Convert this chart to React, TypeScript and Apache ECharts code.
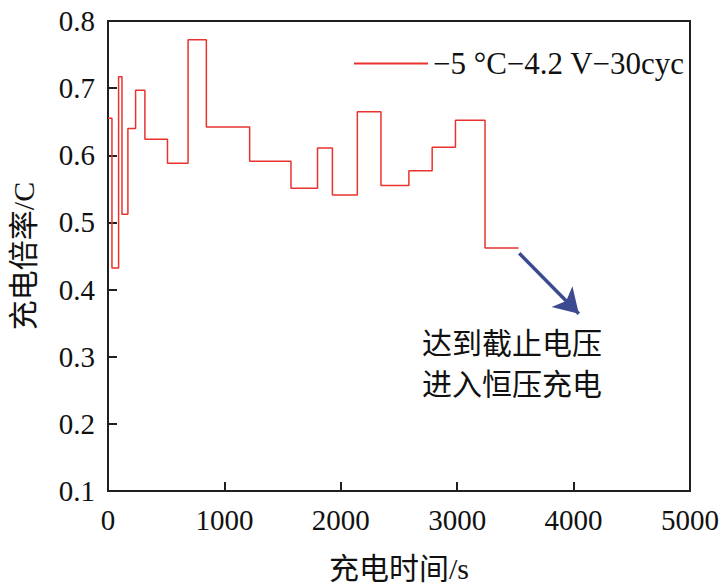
import React, { useEffect, useRef } from "react";
import * as echarts from "echarts";

const times = [0, 34, 91, 120, 171, 237, 317, 511, 688, 845, 1217, 1572, 1800, 1928, 2142, 2345, 2585, 2785, 2985, 3239, 3527];
const rates = [0.655, 0.432, 0.717, 0.512, 0.64, 0.697, 0.624, 0.588, 0.772, 0.642, 0.591, 0.551, 0.611, 0.541, 0.665, 0.555, 0.577, 0.612, 0.652, 0.462, 0.462];
const seriesName = "\u22125 \u00b0C\u22124.2 V\u221230cyc";
const arrowStart = [3533, 0.454];
const arrowEnd = [4045, 0.364];
const noteLines = ["达到截止电压", "进入恒压充电"];
const xTitle = "充电时间/s";
const yTitle = "充电倍率/C";

const SERIF = "Liberation Serif, Noto Sans CJK SC, serif";
const AXIS = "#231f20";
const RED = "#e8332e";

const labelStyle = { fontFamily: SERIF, fontSize: 29, color: "#111111" };
const nameStyle = { fontFamily: SERIF, fontSize: 30, color: "#111111" };

export default function App() {
  const ref = useRef<HTMLDivElement>(null);
  useEffect(() => {
    if (!ref.current) return;
    const chart = echarts.init(ref.current, undefined, { renderer: "svg" });
    chart.setOption({
      animation: false,
      backgroundColor: "#ffffff",
      textStyle: { fontFamily: SERIF, color: "#111" },
      grid: {
        left: 107,
        top: 21,
        right: 35,
        bottom: 97,
        show: true,
        borderColor: AXIS,
        borderWidth: 2,
        backgroundColor: "transparent",
      },
      legend: {
        left: 349,
        top: 43,
        icon: "rect",
        itemWidth: 74,
        itemHeight: 2,
        itemGap: 12,
        itemStyle: { color: RED, borderWidth: 0 },
        lineStyle: { color: RED, width: 1.5 },
        textStyle: { fontFamily: SERIF, fontSize: 31, color: "#111" },
        data: [seriesName],
      },
      xAxis: [
        {
          type: "value",
          min: 0,
          max: 5000,
          interval: 1000,
          name: xTitle,
          nameLocation: "middle",
          nameGap: 62,
          nameTextStyle: nameStyle,
          axisLine: { show: true, lineStyle: { color: AXIS, width: 2 } },
          axisTick: { show: true, inside: true, length: 9, lineStyle: { color: AXIS, width: 2 } },
          axisLabel: {
            show: true,
            ...labelStyle,
            margin: 14,
            formatter: (v: number) => String(Math.round(v)),
          },
          splitLine: { show: false },
        },
      ],
      yAxis: [
        {
          type: "value",
          min: 0.1,
          max: 0.8,
          interval: 0.1,
          name: yTitle,
          nameLocation: "middle",
          nameGap: 70,
          nameTextStyle: nameStyle,
          axisLine: { show: true, lineStyle: { color: AXIS, width: 2 } },
          axisTick: { show: true, inside: true, length: 9, lineStyle: { color: AXIS, width: 2 } },
          axisLabel: {
            show: true,
            ...labelStyle,
            margin: 13,
            formatter: (v: number) => v.toFixed(1),
          },
          splitLine: { show: false },
        },
      ],
      series: [
        {
          name: seriesName,
          type: "line",
          step: "end",
          symbol: "none",
          showSymbol: false,
          color: RED,
          itemStyle: { color: RED },
          lineStyle: { color: RED, width: 1.5 },
          data: times.map((t, i) => [t, rates[i]]),
          markLine: {
            silent: true,
            symbol: ["none", "arrow"],
            symbolSize: [22, 24],
            label: { show: false },
            lineStyle: { color: "#3c4a8f", width: 3.5, type: "solid" },
            itemStyle: { color: "#3c4a8f" },
            data: [[{ coord: arrowStart }, { coord: arrowEnd }]],
          },
        },
      ],
      graphic: [
        {
          type: "text",
          left: 422,
          top: 320,
          style: {
            text: noteLines.join("\n"),
            font: '400 30px "Noto Sans CJK SC"',
            lineHeight: 41,
            fill: "#111",
          },
        },
      ],
    });
    return () => chart.dispose();
  }, []);
  return (
    <div
      ref={ref}
      style={{ position: "fixed", left: 0, top: 0, width: 725, height: 588, background: "#fff" }}
    />
  );
}
